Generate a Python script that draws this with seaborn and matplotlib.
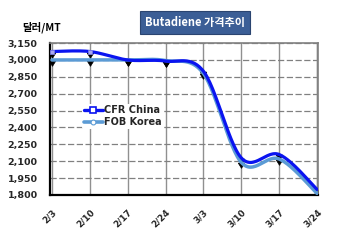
import numpy as np
import pandas as pd
import matplotlib
matplotlib.use("Agg")
import matplotlib.pyplot as plt
from matplotlib.path import Path
import seaborn as sns

dates = ["2/3", "2/10", "2/17", "2/24", "3/3", "3/10", "3/17", "3/24"]
cfr_china = [3075, 3075, 3000, 2990, 2900, 2130, 2160, 1850]
fob_korea = [3000, 3000, 3000, 2995, 2880, 2090, 2120, 1815]
y_ticks = [1800, 1950, 2100, 2250, 2400, 2550, 2700, 2850, 3000, 3150]

sns.set_theme(style="white")
plt.rcParams['font.family'] = ['Noto Sans CJK KR', 'DejaVu Sans']
LAT = ["DejaVu Sans"]

fig = plt.figure(figsize=(3.5, 2.4), dpi=100)
ax = fig.add_axes([0.143, 0.1875, 0.766, 0.633])

df = pd.DataFrame({"x": np.arange(len(dates)), "CFR China": cfr_china, "FOB Korea": fob_korea})

def smooth(xs, ys, n=30):
    xs = np.asarray(xs, float); ys = np.asarray(ys, float)
    px = np.concatenate([[xs[0]], xs, [xs[-1]]])
    py = np.concatenate([[ys[0]], ys, [ys[-1]]])
    ox, oy = [], []
    t = np.linspace(0, 1, n)
    for i in range(1, len(px) - 2):
        p0 = np.array([px[i], py[i]]); p3 = np.array([px[i+1], py[i+1]])
        c1 = p0 + (np.array([px[i+1], py[i+1]]) - np.array([px[i-1], py[i-1]])) / 6
        c2 = p3 - (np.array([px[i+2], py[i+2]]) - np.array([px[i], py[i]])) / 6
        b = ((1-t)**3)[:, None]*p0 + (3*(1-t)**2*t)[:, None]*c1 + (3*(1-t)*t**2)[:, None]*c2 + (t**3)[:, None]*p3
        ox.extend(b[:, 0]); oy.extend(b[:, 1])
    return np.array(ox), np.array(oy)

# black marker shadows
tri = Path([(-1.0, -0.2), (1.0, -0.2), (0.0, -1.8), (-1.0, -0.2)],
           [Path.MOVETO, Path.LINETO, Path.LINETO, Path.CLOSEPOLY])
for col in ["CFR China", "FOB Korea"]:
    sns.scatterplot(data=df, x="x", y=col, ax=ax, marker=tri, s=70, color="black",
                    edgecolor="black", linewidth=0.5, zorder=2, legend=False)

c_cfr = "#0A14F0"
c_fob = "#5B9BD5"
sx, sy = smooth(df["x"], df["FOB Korea"])
ax.plot(sx, sy, color=c_fob, lw=2.5, zorder=3, solid_capstyle="round")
sx, sy = smooth(df["x"], df["CFR China"])
ax.plot(sx, sy, color=c_cfr, lw=2.3, zorder=4, solid_capstyle="round")
sns.scatterplot(data=df.iloc[:2], x="x", y="CFR China", ax=ax, marker="s", s=12, color="#A8A8F0",
                edgecolor="#8080E8", linewidth=0.5, zorder=5, legend=False)

# legend handles
h1, = ax.plot([], [], color=c_cfr, lw=2.4, marker="s", ms=5, mfc="white", mec=c_cfr, mew=1.2)
h2, = ax.plot([], [], color=c_fob, lw=2.6, marker="o", ms=3.5, mfc="white", mec=c_fob, mew=0.8)
leg = ax.legend([h1, h2], ["CFR China", "FOB Korea"], loc="upper left",
                bbox_to_anchor=(0.12, 0.6), frameon=True, handlelength=2.0, handletextpad=0.1,
                borderpad=0.15, labelspacing=0.2, borderaxespad=0,
                prop={"size": 7, "weight": "bold", "family": LAT})
leg.get_frame().set_facecolor("white")
leg.get_frame().set_edgecolor("none")
leg.get_frame().set_alpha(1)
leg.set_zorder(6)

ax.set_xlim(-0.05, 7.03)
ax.set_ylim(1800, 3150)
ax.set_yticks(y_ticks)
ax.set_yticklabels([f"{v:,}" for v in y_ticks], fontsize=6.8, fontweight="bold", family=LAT)
ax.set_xticks(np.arange(len(dates)))
ax.set_xticklabels(dates, rotation=45, ha="right", rotation_mode="anchor", fontsize=6.3,
                   fontweight="bold", family=LAT)
ax.tick_params(axis="y", which="both", length=0, pad=9)
ax.tick_params(axis="x", which="both", length=0, pad=9)
ax.set_xlabel(""); ax.set_ylabel("")

ax.yaxis.grid(True, color="#808080", linestyle=(0, (5, 2)), lw=0.9, zorder=0)
ax.xaxis.grid(True, color="#909090", linestyle="-", lw=1.0, zorder=0)
ax.axvline(7.0, color="#909090", lw=1.0, zorder=1)
ax.set_axisbelow(True)
for s in ["left", "bottom"]:
    ax.spines[s].set_color("black"); ax.spines[s].set_linewidth(1.6)
for s in ["top", "right"]:
    ax.spines[s].set_color("#808080"); ax.spines[s].set_linewidth(1.2)

fig.text(0.557, 0.907, "Butadiene 가격추이", ha="center", va="center", color="white",
         fontsize=8, fontweight="bold",
         bbox=dict(boxstyle="square,pad=0.45", facecolor="#3B5E96", edgecolor="#2A4470", lw=0.8))
fig.text(0.063, 0.885, "달러/MT", ha="left", va="center", color="black", fontsize=7.5, fontweight="bold")

fig.savefig("out.png", dpi=100, facecolor="white")
